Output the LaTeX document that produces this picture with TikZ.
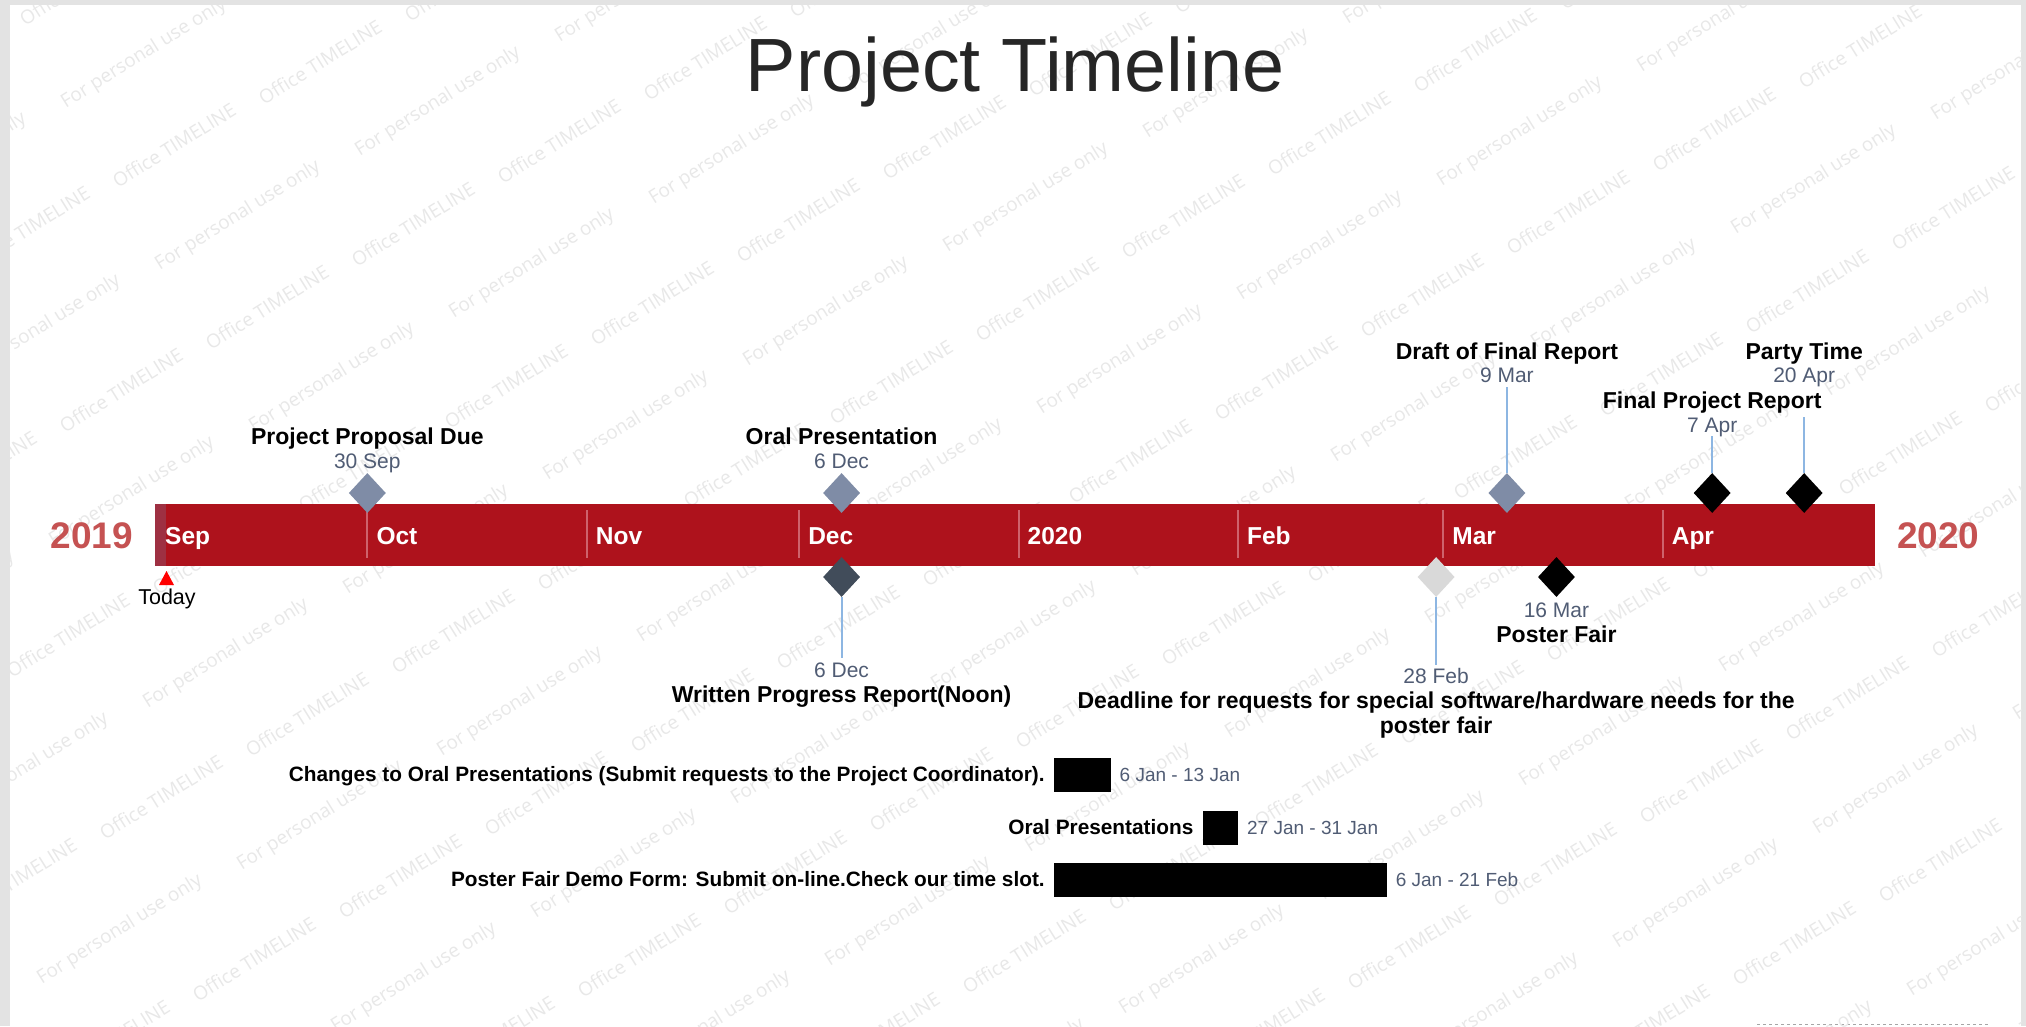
\documentclass[tikz,border=0pt]{standalone}
\usepackage{fontspec}
\setmainfont{Liberation Sans}
\newfontfamily\markfont{Open Sans}
\usetikzlibrary{shapes.geometric}

\definecolor{barred}{RGB}{174,18,28}
\definecolor{todayband}{RGB}{158,48,66}
\definecolor{divline}{RGB}{206,98,108}
\definecolor{yearred}{RGB}{197,82,82}
\definecolor{slate}{RGB}{127,140,166}
\definecolor{darkslate}{RGB}{65,76,90}
\definecolor{paleg}{RGB}{217,217,217}
\definecolor{datecol}{RGB}{80,92,116}
\definecolor{stemblue}{RGB}{141,182,226}
\definecolor{titlecol}{RGB}{38,38,38}

% day (from 1 Sep 2019) -> x in px
\newcommand{\dayx}[1]{155+7.078*(#1)}
\newcommand{\fs}[1]{\fontsize{#1}{#1}\selectfont}

\tikzset{
  wmark/.style={font=\markfont\fs{19}, text=black!9, rotate=32, inner sep=0pt},
  month/.style={font=\fs{24.5}\bfseries, text=white, anchor=base west, inner sep=0pt},
  year/.style={font=\fs{37}\bfseries, text=yearred, inner sep=0pt},
  mstone/.style={diamond, inner sep=0pt, minimum width=37pt, minimum height=40pt},
  mlabel/.style={font=\fs{23}\bfseries, anchor=base, inner sep=0pt},
  mdate/.style={font=\fs{21}, text=datecol, anchor=base, inner sep=0pt},
  stem/.style={stemblue, line width=2pt},
  glabel/.style={font=\fs{20.8}\bfseries, anchor=base east, inner sep=0pt},
  gdate/.style={font=\fs{19}, text=datecol, anchor=base west, inner sep=0pt}
}

\begin{document}
\begin{tikzpicture}[x=1pt, y=-1pt]
  \useasboundingbox (0,0) rectangle (2026,1026);
  \fill[black!11] (0,0) rectangle (2026,1026);
  \fill[white] (10,5) rectangle (2021,1026);
  \draw[black!35, dashed, line width=1pt] (1757,1024) -- (1990,1024);

  % watermark, two tilings
  \begin{scope}
    \clip (10,5) rectangle (2021,1026);
    \foreach \i in {-11,...,6}
      \foreach \j in {-2,...,12}
        \node[wmark] (wo-\i-\j) at ({559+385*\i+239*\j},{141-4*\i+79*\j}) {Office TIMELINE};
    \foreach \i in {-6,...,8}
      \foreach \k in {-5,...,7}
        \node[wmark] (wf-\i-\k) at ({732+294*\i+94*\k},{150+48*\i+162*\k}) {For personal use only};
  \end{scope}

  \node[font=\fs{75.5}, text=titlecol, anchor=base, inner sep=0pt] (title) at (1015,91) {Project Timeline};

  % time bar
  \fill[barred] (155,504) rectangle (1875,566);
  \fill[todayband] (155,504) rectangle (166,566);
  \node[month] (m-Sep) at (165,544) {Sep};
  \foreach \m/\d in {Oct/30, Nov/61, Dec/91, 2020/122, Feb/153, Mar/182, Apr/213} {
    \draw[divline, line width=2pt] ({\dayx{\d}},510) -- ({\dayx{\d}},558);
    \node[month] (m-\m) at ({\dayx{\d}+9},544) {\m};
  }
  \node[year, anchor=base east] (y19) at (133,548) {2019};
  \node[year, anchor=base west] (y20) at (1897,548) {2020};

  % today
  \fill[red] (159,585) -- (174,585) -- (166.5,571) -- cycle;
  \node[font=\fs{21.5}, anchor=base, inner sep=0pt] (today) at (167,604) {Today};

  % milestones above and below the bar
  \foreach \n/\d/\c/\my/\dy/\sy/\w in {
      pp/29/slate/493/468/0/30 Sep,
      op/96/slate/493/468/0/6 Dec,
      df/190/slate/493/382/387/9 Mar,
      fr/219/black/493/432/436/7 Apr,
      pt/232/black/493/382/417/20 Apr,
      wp/96/darkslate/577/677/658/6 Dec,
      pf/197/black/577/617/0/16 Mar,
      dl/180/paleg/577/683/665/28 Feb}
  {
    \coordinate (\n-s) at ({\dayx{\d+1}},\sy);
    \node[mstone, fill=\c] (\n) at ({\dayx{\d+1}},\my) {};
    \ifnum\sy>0
      \ifnum\sy<\my \draw[stem] (\n-s) -- (\n.north); \else \draw[stem] (\n.south) -- (\n-s); \fi
    \fi
    \node[mdate] (\n-d) at ({\dayx{\d+1}},\dy) {\w};
  }
  \node[mlabel] (pp-l) at (pp-d.base |- 0,444) {Project Proposal Due};
  \node[mlabel] (op-l) at (op-d.base |- 0,444) {Oral Presentation};
  \node[mlabel] (df-l) at (df-d.base |- 0,359) {Draft of Final Report};
  \node[mlabel] (fr-l) at (fr-d.base |- 0,408) {Final Project Report};
  \node[mlabel] (pt-l) at (pt-d.base |- 0,359) {Party Time};
  \node[mlabel] (wp-l) at (wp-d.base |- 0,702) {Written Progress Report(Noon)};
  \node[mlabel] (pf-l) at (pf-d.base |- 0,642) {Poster Fair};
  \node[mlabel] (dl-l) at (dl-d.base |- 0,708) {Deadline for requests for special software/hardware needs for the};
  \node[mlabel] (dl-l2) at (dl-d.base |- 0,733) {poster fair};

  % task bars
  \foreach \n/\s/\e/\yc/\t/\w in {
      g1/127/135/775/{Changes to Oral Presentations (Submit requests to the Project Coordinator).}/6 Jan - 13 Jan,
      g2/148/153/827.5/{Oral Presentations}/27 Jan - 31 Jan,
      g3/127/174/879.5/{Poster Fair Demo Form: Submit on-line.Check our time slot.}/6 Jan - 21 Feb}
  {
    \fill ({\dayx{\s}},\yc-17) rectangle ({\dayx{\e}},\yc+17);
    \node[glabel] (\n-l) at ({\dayx{\s}-9},\yc+6.5) {\t};
    \node[gdate] (\n-d) at ({\dayx{\e}+9},\yc+6.5) {\w};
  }
\end{tikzpicture}
\end{document}
